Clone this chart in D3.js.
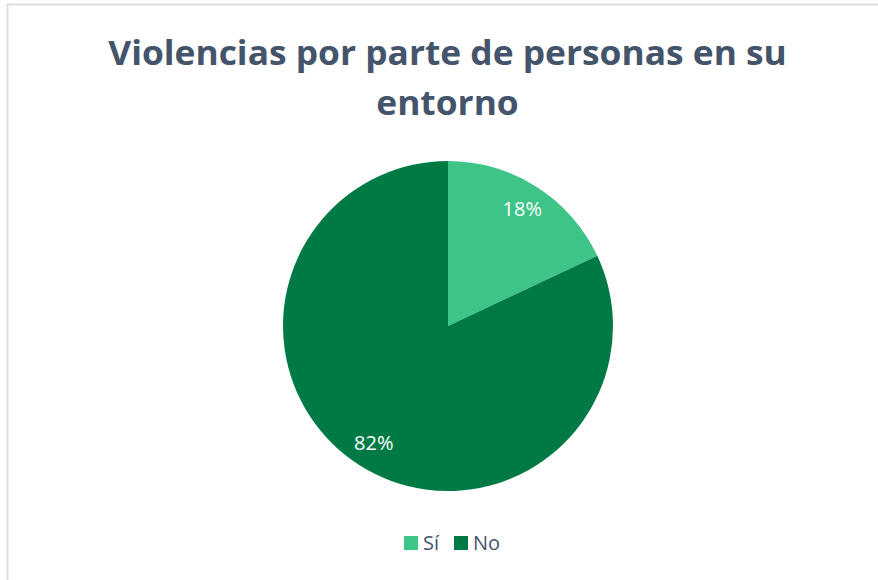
<!DOCTYPE html>
<html><head><meta charset="utf-8">
<script src="https://cdn.jsdelivr.net/npm/d3@7"></script>
<style>html,body{margin:0;padding:0;background:#fff;}svg{display:block;}</style>
</head><body>
<script>
const categories = ["Sí", "No"];
const values = [18, 82];
const colors = ["#3FC488", "#007A44"];
const titleLines = ["Violencias por parte de personas en su", "entorno"];

const W = 878, H = 580;
const svg = d3.select("body").append("svg").attr("width", W).attr("height", H);
svg.append("rect").attr("width", W).attr("height", H).attr("fill", "#fff");
// chart border
svg.append("path").attr("d", `M7.5,${H} V4.5 H${W}`).attr("fill", "none").attr("stroke", "#D9DEE6").attr("stroke-width", 2);

const font = "'Open Sans', 'Noto Sans', sans-serif";
const titleFS = 33.5;
const title = svg.append("g");
const t1 = title.append("text").attr("x", 0).attr("y", 65).attr("text-anchor", "middle")
  .attr("font-family", font).attr("font-weight", "bold").attr("font-size", titleFS).attr("fill", "#44546A").text(titleLines[0]);
const t2 = title.append("text").attr("x", 0).attr("y", 115).attr("text-anchor", "middle")
  .attr("font-family", font).attr("font-weight", "bold").attr("font-size", titleFS).attr("fill", "#44546A").text(titleLines[1]);
const sx = 679 / t1.node().getComputedTextLength();
title.attr("transform", `translate(447.5,0) scale(${sx},1)`);

const cx = 448, cy = 326, R = 165;
const pie = d3.pie().sort(null).value(d => d)(values);
const arc = d3.arc().innerRadius(0).outerRadius(R);
const g = svg.append("g").attr("transform", `translate(${cx},${cy})`);
g.selectAll("path").data(pie).join("path").attr("d", arc).attr("fill", (d, i) => colors[i]);
const labelArc = d3.arc().innerRadius(R * 0.84).outerRadius(R * 0.84);
g.selectAll("text").data(pie).join("text")
  .attr("transform", d => `translate(${labelArc.centroid(d)})`)
  .attr("text-anchor", "middle").attr("dy", "0.36em")
  .attr("font-family", font).attr("font-size", 20).attr("fill", "#fff")
  .text(d => d.data + "%");

// legend
const leg = svg.append("g");
const legX = [404, 454];
categories.forEach((c, i) => {
  leg.append("rect").attr("x", legX[i]).attr("y", 536).attr("width", 14).attr("height", 14).attr("fill", colors[i]);
  leg.append("text").attr("x", legX[i] + 19).attr("y", 550).attr("font-family", font).attr("font-size", 20)
    .attr("fill", "#44546A").text(c);
});
</script>
</body></html>
